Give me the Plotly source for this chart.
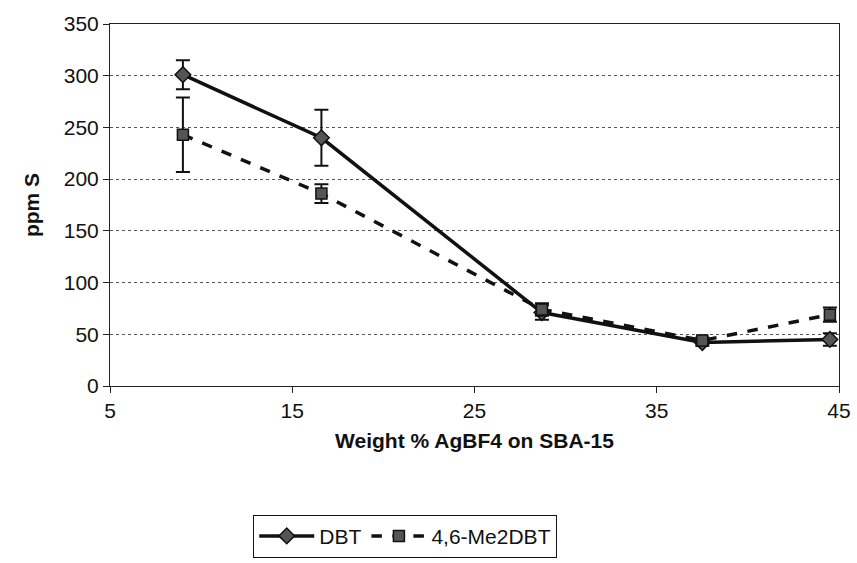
import plotly.graph_objects as go

x_wt = [9, 16.6, 28.7, 37.5, 44.5]
dbt = [301, 240, 71, 42, 45]
dbt_err = [14, 27, 7, 3, 6]
me2 = [243, 186, 74, 44, 69]
me2_err = [36, 9, 6, 3, 7]

x_ticks = [5, 15, 25, 35, 45]
y_ticks = [0, 50, 100, 150, 200, 250, 300, 350]

fig = go.Figure()
fig.add_trace(go.Scatter(
    x=x_wt, y=dbt, name="DBT", mode="lines+markers",
    line=dict(color="#111", width=3.5),
    marker=dict(symbol="diamond", size=12, color="#555", line=dict(color="#111", width=1.5)),
    error_y=dict(type="data", array=dbt_err, color="#111", thickness=2, width=7),
))
fig.add_trace(go.Scatter(
    x=x_wt, y=me2, name="4,6-Me2DBT", mode="lines+markers",
    line=dict(color="#111", width=3.5, dash="dash"),
    marker=dict(symbol="square", size=11, color="#555", line=dict(color="#111", width=1.5)),
    error_y=dict(type="data", array=me2_err, color="#111", thickness=2, width=7),
))

fig.update_layout(
    width=857, height=563,
    margin=dict(l=110, r=18, t=24, b=177, autoexpand=False),
    paper_bgcolor="white", plot_bgcolor="white",
    font=dict(family="Liberation Sans, Arial", color="#111", size=21),
    showlegend=True,
    legend=dict(orientation="h", x=0.405, xanchor="center", y=-0.415, yanchor="middle",
                bordercolor="#111", borderwidth=1, font=dict(size=21),
                itemwidth=55, traceorder="normal"),
)
fig.update_xaxes(
    range=[5, 45], tickvals=x_ticks, ticktext=[str(v) for v in x_ticks],
    showgrid=False, zeroline=False,
    showline=True, linecolor="#222", linewidth=1, mirror=True,
    ticks="outside", ticklen=6, tickcolor="#222",
    title=dict(text="<b>Weight % AgBF4 on SBA-15</b>", font=dict(size=21), standoff=12),
)
fig.update_yaxes(
    range=[0, 350], tickvals=y_ticks, ticktext=[str(v) for v in y_ticks],
    showgrid=True, gridcolor="#555", gridwidth=1, griddash="dot",
    zeroline=False,
    showline=True, linecolor="#222", linewidth=1, mirror=True,
    ticks="outside", ticklen=6, tickcolor="#222",
    title=dict(text="<b>ppm S</b>", font=dict(size=21), standoff=18),
)

fig.write_html("out.html")
